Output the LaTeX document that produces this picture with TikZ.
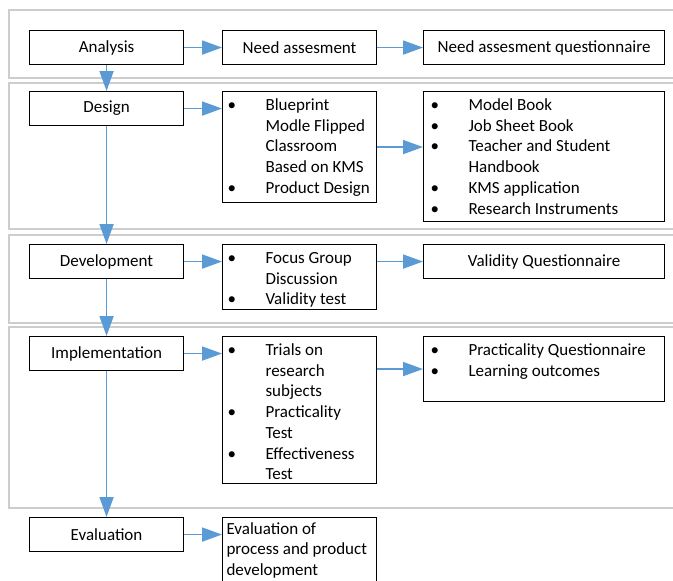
\documentclass[tikz,border=0pt]{standalone}
\usepackage{fontspec}
\setmainfont{Carlito}
\usetikzlibrary{arrows.meta,positioning}
\definecolor{flowblue}{RGB}{91,155,213}
\definecolor{panelgray}{RGB}{205,205,205}
\tikzset{%
stagebox/.style={draw=black, line width=1.1pt, minimum width=154pt, minimum height=34pt,
  inner sep=0pt, anchor=north west, font=\fontsize{17}{20.7}\selectfont},
listbox/.style={draw=black, line width=1.1pt, inner sep=0pt, anchor=north west,
  font=\fontsize{17}{20.7}\selectfont},
panel/.style={draw=panelgray, line width=1.5pt},
arr/.style={draw=flowblue, line width=1.8pt, -{Triangle[length=20pt,width=14pt]}}
}
% bulleted list inside a box of given width and height
\newcommand{\blist}[4]{\parbox[c][#2pt][t]{#1pt}{\vspace*{4.5pt}\hspace*{#3pt}%
  \begin{tabular}[t]{@{}p{38pt}@{}l@{}}#4\end{tabular}}}

\begin{document}
\begin{tikzpicture}[x=1pt,y=-1pt]
  \clip (0,0) rectangle (673,581);
  % stage panels
  \draw[panel] (9,10) rectangle (690,78);
  \draw[panel] (9,83) rectangle (690,229);
  \draw[panel] (9,235) rectangle (690,323);
  \draw[panel] (9,327) rectangle (690,508);
  % ADDIE stages
  \node[stagebox] (analysis) at (29,30) {Analysis};
  \node[stagebox] (design) at (29,91) {Design};
  \node[stagebox] (development) at (29,244) {Development};
  \node[stagebox] (implementation) at (29,336) {Implementation};
  \node[stagebox] (evaluation) at (29,517) {Evaluation};
  % activities
  \node[stagebox] (needmid) at (222,30) {Need assesment};
  \node[listbox] (desmid) at (222,91) {\blist{154}{111}{5}{%
    \textbullet & Blueprint\\ & Modle Flipped\\ & Classroom\\ & Based on KMS\\
    \textbullet & Product Design}};
  \node[listbox] (devmid) at (222,244) {\blist{154}{65}{5}{%
    \textbullet & Focus Group\\ & Discussion\\ \textbullet & Validity test}};
  \node[listbox] (implmid) at (222,336) {\blist{154}{147}{5}{%
    \textbullet & Trials on\\ & research\\ & subjects\\
    \textbullet & Practicality\\ & Test\\ \textbullet & Effectiveness\\ & Test}};
  \node[listbox] (evalmid) at (222,517) {\parbox[c][70pt][t]{154pt}{\vspace*{2pt}\hspace*{4pt}%
    \begin{tabular}[t]{@{}l@{}}Evaluation of\\ process and product\\ development\end{tabular}}};
  % outputs
  \node[stagebox, minimum width=241pt] (needright) at (423,30) {Need assesment questionnaire};
  \node[listbox] (desright) at (423,91) {\blist{241}{130}{7}{%
    \textbullet & Model Book\\ \textbullet & Job Sheet Book\\
    \textbullet & Teacher and Student\\ & Handbook\\
    \textbullet & KMS application\\ \textbullet & Research Instruments}};
  \node[stagebox, minimum width=241pt] (devright) at (423,244) {Validity Questionnaire};
  \node[listbox] (implright) at (423,336) {\blist{241}{65}{7}{%
    \textbullet & Practicality Questionnaire\\ \textbullet & Learning outcomes}};
  % flow between stages
  \draw[arr] (analysis) -- (design);
  \draw[arr] (design) -- (development);
  \draw[arr] (development) -- (implementation);
  \draw[arr] (implementation) -- (evaluation);
  % flow to activities and outputs
  \draw[arr] (analysis) -- (needmid);
  \draw[arr] (needmid) -- (needright);
  \draw[arr] (design.east) -- (design.east -| desmid.west);
  \draw[arr] (desmid.east) -- (desmid.east -| desright.west);
  \draw[arr] (development.east) -- (development.east -| devmid.west);
  \draw[arr] (devright.west -| devmid.east) -- (devright.west);
  \draw[arr] (implementation.east) -- (implementation.east -| implmid.west);
  \draw[arr] (implright.west -| implmid.east) -- (implright.west);
  \draw[arr] (evaluation.east) -- (evaluation.east -| evalmid.west);
\end{tikzpicture}
\end{document}
